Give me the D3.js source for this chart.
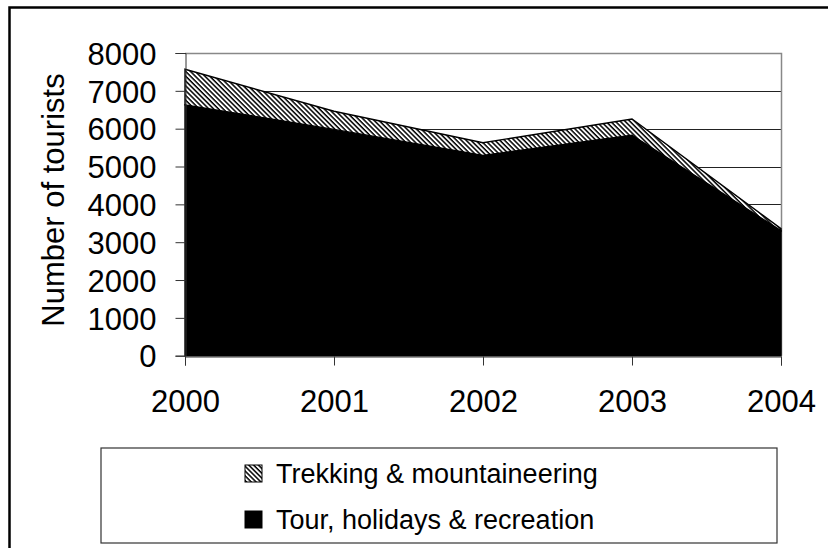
<!DOCTYPE html>
<html>
<head>
<meta charset="utf-8">
<script src="https://cdn.jsdelivr.net/npm/d3@7"></script>
<style>
  html, body { margin: 0; padding: 0; background: #fff; }
  svg { display: block; font-family: "Liberation Sans", Arial, sans-serif; }
</style>
</head>
<body>
<svg id="chart" width="828" height="548"></svg>
<script>
// ---- data ----
const years = ["2000", "2001", "2002", "2003", "2004"];
const tourValues = [6630, 5980, 5295, 5830, 3305];   // Tour, holidays & recreation
const trekValues = [940, 480, 335, 425, 55];         // Trekking & mountaineering
const yTicks = [0, 1000, 2000, 3000, 4000, 5000, 6000, 7000, 8000];
const seriesNames = ["Tour, holidays & recreation", "Trekking & mountaineering"];
const legendOrder = ["Trekking & mountaineering", "Tour, holidays & recreation"];

(function () {
const svg = d3.select("#chart");

// hatch pattern ("\\" diagonal)
const defs = svg.append("defs");
const pat = defs.append("pattern")
  .attr("id", "hatch")
  .attr("patternUnits", "userSpaceOnUse")
  .attr("width", 3.4).attr("height", 3.4)
  .attr("patternTransform", "rotate(45)");
pat.append("rect").attr("width", 3.4).attr("height", 3.4).attr("fill", "#fff");
pat.append("rect").attr("x", 0).attr("y", 0).attr("width", 3.4).attr("height", 1.5).attr("fill", "#000");

// outer frame (extends beyond canvas on right/bottom)
svg.append("rect")
  .attr("x", 9.5).attr("y", 7.5).attr("width", 840).attr("height", 560)
  .attr("fill", "none").attr("stroke", "#000").attr("stroke-width", 2.5);

const pLeft = 185, pRight = 781, pTop = 53, pBottom = 355.7;

const x = d3.scalePoint().domain(years).range([pLeft, pRight]);
const y = d3.scaleLinear().domain([0, 8000]).range([pBottom, pTop]);

// gridlines
svg.append("g").selectAll("line")
  .data(yTicks.filter(d => d > 0 && d < 8000))
  .join("line")
  .attr("x1", pLeft).attr("x2", pRight)
  .attr("y1", d => Math.round(y(d)) + 0.5).attr("y2", d => Math.round(y(d)) + 0.5)
  .attr("stroke", "#222").attr("stroke-width", 1);

// plot area border top/right (grey)
svg.append("path")
  .attr("d", `M${pLeft},${Math.round(pTop)+0.5}H${pRight+0.5}V${pBottom}`)
  .attr("fill", "none").attr("stroke", "#888").attr("stroke-width", 1.5);

// stacked data
const table = years.map((yr, i) => ({ year: yr, tour: tourValues[i], trek: trekValues[i] }));
const stacked = d3.stack().keys(["tour", "trek"])(table);

const area = d3.area()
  .x(d => x(d.data.year))
  .y0(d => y(d[0]))
  .y1(d => y(d[1]));

svg.append("g").selectAll("path")
  .data(stacked)
  .join("path")
  .attr("d", area)
  .attr("fill", (d, i) => i === 0 ? "#000" : "url(#hatch)")
  .attr("stroke", "#000")
  .attr("stroke-width", 1.4)
  .attr("stroke-linejoin", "miter");

// axes
const yAxis = d3.axisLeft(y).tickValues(yTicks).tickSize(10).tickPadding(19).tickFormat(d3.format("d"));
const gy = svg.append("g").attr("transform", `translate(${pLeft + 0.5},0)`).call(yAxis);
gy.select(".domain").attr("stroke", "#333");
gy.selectAll(".tick line").attr("stroke", "#333");
gy.selectAll(".tick text").attr("font-size", 31).attr("fill", "#000")
  .attr("font-family", "'Liberation Sans', Arial, sans-serif").attr("dy", "0.36em");

const xAxis = d3.axisBottom(x).tickSize(9).tickPadding(24);
const gx = svg.append("g").attr("transform", `translate(0,${Math.round(pBottom) + 0.5})`).call(xAxis);
gx.select(".domain").attr("stroke", "#333");
gx.selectAll(".tick line").attr("stroke", "#333");
gx.selectAll(".tick text").attr("font-size", 31).attr("fill", "#000")
  .attr("font-family", "'Liberation Sans', Arial, sans-serif");

// y-axis title
svg.append("text")
  .attr("transform", `translate(64,200) rotate(-90)`)
  .attr("text-anchor", "middle")
  .attr("font-size", 31)
  .text("Number of tourists");

// legend
svg.append("rect")
  .attr("x", 101).attr("y", 448).attr("width", 676).attr("height", 95)
  .attr("fill", "#fff").attr("stroke", "#333").attr("stroke-width", 1.2);

const lg = svg.append("g").selectAll("g")
  .data(legendOrder)
  .join("g")
  .attr("transform", (d, i) => `translate(245,${465 + i * 46})`);
lg.append("rect")
  .attr("width", 17).attr("height", 17)
  .attr("fill", d => d === seriesNames[0] ? "#000" : "url(#hatch)")
  .attr("stroke", "#000").attr("stroke-width", 1);
lg.append("text")
  .attr("x", 31).attr("y", 17.5)
  .attr("font-size", 27)
  .text(d => d);
})();
</script>
</body>
</html>
